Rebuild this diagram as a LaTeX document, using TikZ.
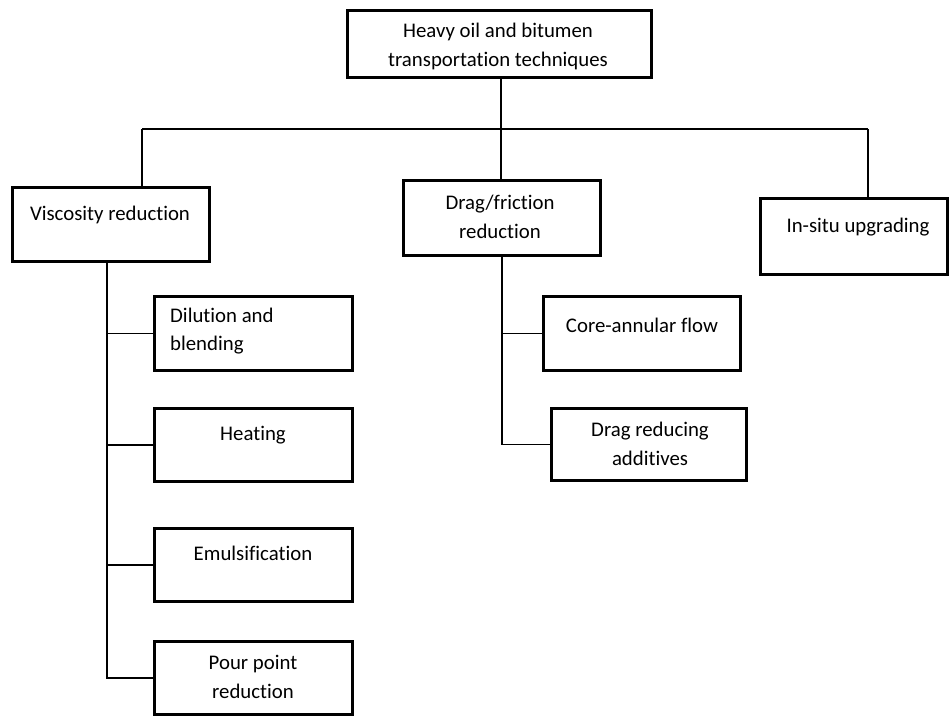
\documentclass[tikz,border=0pt]{standalone}
\usepackage{fontspec}
\setmainfont[Ligatures={NoCommon}]{Carlito}
\begin{document}
\begin{tikzpicture}[x=1pt,y=-1pt,
  box/.style={draw=black, line width=3.2pt, fill=white, inner sep=0pt},
  lbl/.style={inner sep=0pt, align=center, font=\fontsize{20.8}{28.5}\selectfont},
  conn/.style={draw=black, line width=1.6pt}]
\useasboundingbox (0,0) rectangle (951,717);
% boxes
\node[box, minimum width=304pt, minimum height=67pt] (top) at (499.5,44) {};
\node[box, minimum width=197pt, minimum height=74pt] (visc) at (111,224.5) {};
\node[box, minimum width=197pt, minimum height=75pt] (drag) at (502,218) {};
\node[box, minimum width=187pt, minimum height=76pt] (insitu) at (854,236.5) {};
\node[box, minimum width=198pt, minimum height=74pt] (dil) at (253.5,333.5) {};
\node[box, minimum width=198pt, minimum height=73pt] (heat) at (253.5,445) {};
\node[box, minimum width=198pt, minimum height=73pt] (emul) at (253.5,565) {};
\node[box, minimum width=198pt, minimum height=73pt] (pour) at (253.5,678) {};
\node[box, minimum width=197pt, minimum height=74pt] (core) at (642,333.5) {};
\node[box, minimum width=195pt, minimum height=72pt] (dra) at (649,444.5) {};
% labels
\node[lbl] (ttop) at (498,46.5) {Heavy oil and bitumen\\transportation techniques};
\node[lbl] (tvisc) at (110,215) {Viscosity reduction};
\node[lbl] (tdrag) at (500,217) {Drag/friction\\reduction};
\node[lbl] (tinsitu) at (858,227) {In-situ upgrading};
\node[lbl, anchor=west, align=left] (tdil) at (170,331) {Dilution and\\blending};
\node[lbl] (theat) at (253,435) {Heating};
\node[lbl] (temul) at (253,553) {Emulsification};
\node[lbl] (tpour) at (253,677) {Pour point\\reduction};
\node[lbl] (tcore) at (642,325) {Core-annular flow};
\node[lbl] (tdra) at (650,444) {Drag reducing\\additives};
% connector coordinates
\coordinate (hub) at (501,129);
\coordinate (hl) at (142,129);
\coordinate (hr) at (868,129);
\coordinate (vt) at (107,263);
\coordinate (dt) at (502,257);
% connectors
\draw[conn] (top.south -| hub) -- (hub);
\draw[conn] (hl) -- (hr);
\draw[conn] (hl) -- (hl |- visc.north);
\draw[conn] (hub) -- (hub |- drag.north);
\draw[conn] (hr) -- (hr |- insitu.north);
\draw[conn] (vt) |- (pour.west);
\draw[conn] (vt |- dil.west) -- (dil.west);
\draw[conn] (vt |- heat.west) -- (heat.west);
\draw[conn] (vt |- emul.west) -- (emul.west);
\draw[conn] (dt) |- (dra.west);
\draw[conn] (dt |- core.west) -- (core.west);
\end{tikzpicture}
\end{document}
